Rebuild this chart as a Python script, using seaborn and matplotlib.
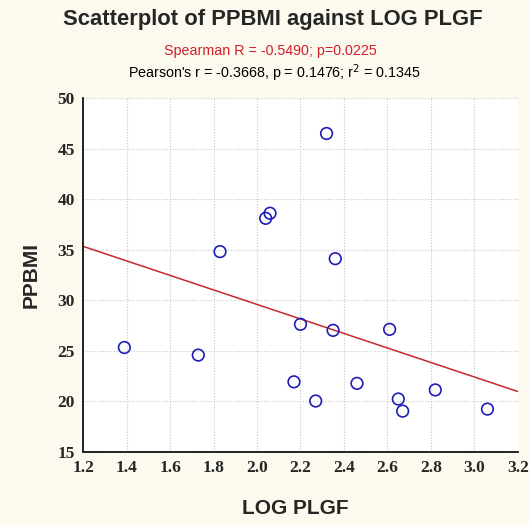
import matplotlib
matplotlib.use("Agg")
import matplotlib.pyplot as plt
from matplotlib.ticker import MultipleLocator
import seaborn as sns
import pandas as pd

log_plgf = [1.39, 1.73, 1.83, 2.04, 2.06, 2.17, 2.20, 2.27, 2.32, 2.35, 2.36,
            2.46, 2.61, 2.65, 2.67, 2.82, 3.06]
ppbmi = [25.3, 24.55, 34.8, 38.1, 38.6, 21.9, 27.6, 20.0, 46.5, 27.0, 34.1,
         21.75, 27.1, 20.2, 19.0, 21.1, 19.2]
x_ticks = [1.2, 1.4, 1.6, 1.8, 2.0, 2.2, 2.4, 2.6, 2.8, 3.0, 3.2]
y_ticks = [15, 20, 25, 30, 35, 40, 45, 50]

df = pd.DataFrame({"LOG PLGF": log_plgf, "PPBMI": ppbmi})

sns.set_style("white")
plt.rcParams['font.family'] = ['Liberation Sans', 'DejaVu Sans']

bg = "#FCF9EF"
fig = plt.figure(figsize=(5.29, 5.25), dpi=100, facecolor=bg)
ax = fig.add_axes([0.157, 0.140, 0.822, 0.673])
ax.set_facecolor("white")
ax.set_xlim(1.2, 3.2)
ax.set_ylim(15, 50)

sns.regplot(data=df, x="LOG PLGF", y="PPBMI", ax=ax, ci=None, truncate=False,
            scatter=False, line_kws=dict(color="#C8282E", lw=1.1, zorder=2))
sns.scatterplot(data=df, x="LOG PLGF", y="PPBMI", ax=ax, marker="o", s=70,
                facecolor="none", edgecolor="#1E1EB4", linewidth=1.2, zorder=3)

ax.set_xlim(1.2, 3.2)
ax.set_ylim(15, 50)
ax.set_xticks(x_ticks)
ax.set_yticks(y_ticks)
ax.set_xticklabels([f"{v:.1f}" for v in x_ticks])
ax.set_yticklabels([str(v) for v in y_ticks])
ax.xaxis.set_minor_locator(MultipleLocator(0.1))
ax.yaxis.set_minor_locator(MultipleLocator(1))
ax.grid(True, which="major", color="#C8C8C8", linestyle=(0, (1, 1.5)), lw=0.8)
for s in ["top", "right"]:
    ax.spines[s].set_visible(False)
for s in ["left", "bottom"]:
    ax.spines[s].set_color("black")
    ax.spines[s].set_linewidth(1.2)
ax.tick_params(which="major", direction="in", length=5, width=1, color="black", pad=6)
ax.tick_params(which="minor", direction="in", length=3, width=1, color="black")
for lab in ax.get_xticklabels() + ax.get_yticklabels():
    lab.set_fontfamily("Liberation Serif")
    lab.set_fontweight("bold")
    lab.set_fontsize(12.5)
ax.set_xlabel("LOG PLGF", fontsize=15, fontweight="bold", labelpad=17)
ax.xaxis.label.set_x(0.488)
ax.set_ylabel("PPBMI", fontsize=15, fontweight="bold", labelpad=12)

fig.text(0.515, 0.963, "Scatterplot of PPBMI against LOG PLGF", ha="center", va="center",
         fontsize=15.8, fontweight="bold")
fig.text(0.511, 0.903, "Spearman R = -0.5490; p=0.0225", ha="center", va="center",
         fontsize=10.3, color="#D0202A")
fig.text(0.519, 0.861, "Pearson's r = -0.3668, p = 0.1476; r$^2$ = 0.1345", ha="center",
         va="center", fontsize=10.3, color="black")

fig.savefig("out.png", dpi=100, facecolor=bg)
